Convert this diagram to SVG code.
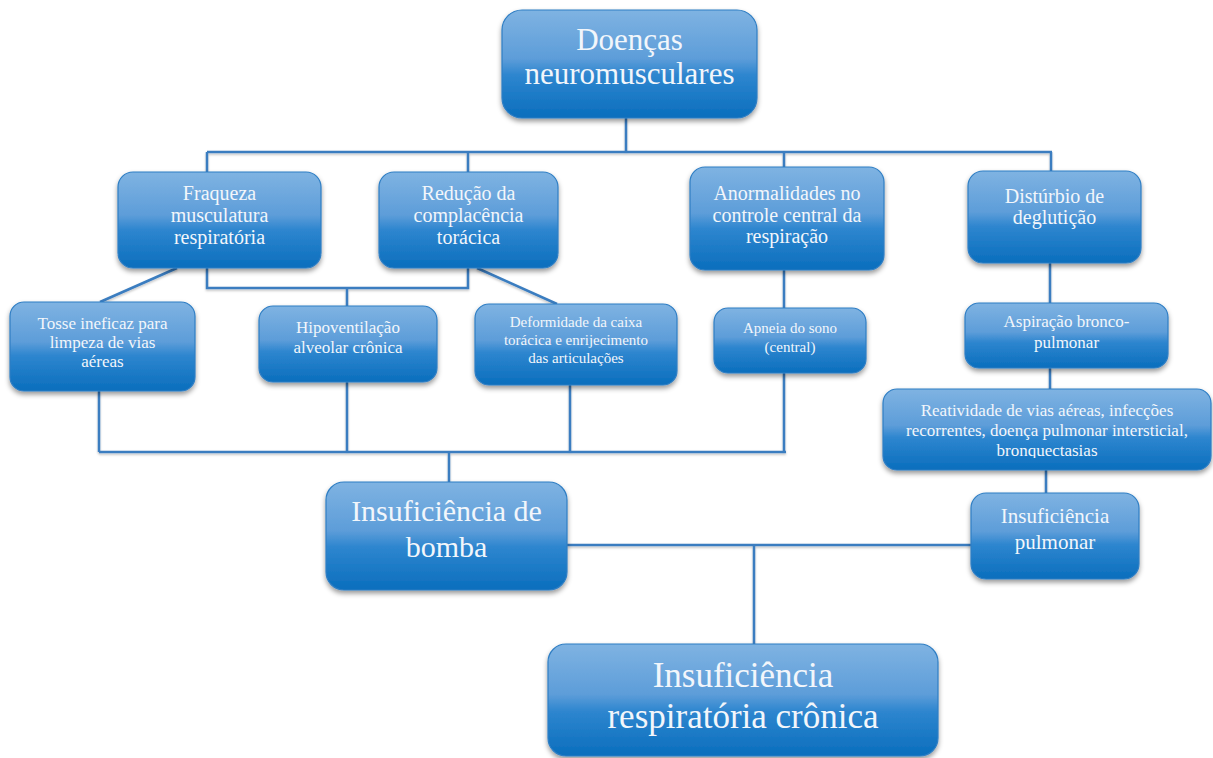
<svg xmlns="http://www.w3.org/2000/svg" width="1213" height="758" viewBox="0 0 1213 758">
<defs>
<linearGradient id="g" x1="0" y1="0" x2="0" y2="1">
<stop offset="0" stop-color="#7fb3e2"/>
<stop offset="0.45" stop-color="#5d9dd9"/>
<stop offset="0.6" stop-color="#2e86cf"/>
<stop offset="1" stop-color="#0a6ebd"/>
</linearGradient>
<filter id="sh" x="-10%" y="-10%" width="120%" height="130%">
<feDropShadow dx="0" dy="3" stdDeviation="2.5" flood-color="#000" flood-opacity="0.4"/>
</filter>
<filter id="lsh" x="-5%" y="-5%" width="110%" height="110%">
<feDropShadow dx="0" dy="1.5" stdDeviation="1" flood-color="#000" flood-opacity="0.25"/>
</filter>
<clipPath id="clipL"><rect x="883" y="389" width="330" height="69"/></clipPath>
</defs>
<style>
.box{fill:url(#g);stroke:#2f7ec4;stroke-width:1.2;filter:url(#sh)}
.t{font-family:"Liberation Serif","Times New Roman",serif;fill:#f2f6fb;text-anchor:middle}
.c{fill:none;stroke:#3a7dc0;stroke-width:2.5}
</style>
<rect width="1213" height="758" fill="#ffffff"/>
<g id="connectors" filter="url(#lsh)">
<path class="c" d="M626 118V152M207 152H1052M207 152V172M468 152V172M784 152V167M1051 152V171"/>
<path class="c" d="M207 268V288H468V268M347 288V306"/>
<path class="c" d="M177 268L100 302M477 268L557 304"/>
<path class="c" d="M784 270V308"/>
<path class="c" d="M99 391V452M347 382V452M570 385V452M784 373V452M99 452H786M449 452V482"/>
<path class="c" d="M1050 263V303M1050 368V389M1046 470V493"/>
<path class="c" d="M567 545H971M754 545V644"/>
</g>
<g id="n-doencas">
<rect class="box" x="502" y="10" width="255" height="108" rx="20"/>
<text class="t" font-size="31" x="629.5" y="50">Doenças</text>
<text class="t" font-size="31" x="629.5" y="84">neuromusculares</text>
</g>
<g id="n-fraqueza">
<rect class="box" x="118" y="172" width="203" height="96" rx="15"/>
<text class="t" font-size="20" x="219.5" y="200">Fraqueza</text>
<text class="t" font-size="20" x="219.5" y="222">musculatura</text>
<text class="t" font-size="20" x="219.5" y="244">respiratória</text>
</g>
<g id="n-reducao">
<rect class="box" x="379" y="172" width="179" height="96" rx="15"/>
<text class="t" font-size="20" x="468.5" y="200">Redução da</text>
<text class="t" font-size="20" x="468.5" y="222">complacência</text>
<text class="t" font-size="20" x="468.5" y="244">torácica</text>
</g>
<g id="n-anormalidades">
<rect class="box" x="690" y="167" width="194" height="103" rx="15"/>
<text class="t" font-size="20" x="787" y="200">Anormalidades no</text>
<text class="t" font-size="20" x="787" y="222">controle central da</text>
<text class="t" font-size="20" x="787" y="243">respiração</text>
</g>
<g id="n-disturbio">
<rect class="box" x="968" y="171" width="173" height="92" rx="15"/>
<text class="t" font-size="20" x="1054.5" y="203">Distúrbio de</text>
<text class="t" font-size="20" x="1054.5" y="224">deglutição</text>
</g>
<g id="n-tosse">
<rect class="box" x="10" y="302" width="185" height="89" rx="14"/>
<text class="t" font-size="17" x="102.5" y="329">Tosse ineficaz para</text>
<text class="t" font-size="17" x="102.5" y="348">limpeza de vias</text>
<text class="t" font-size="17" x="102.5" y="367">aéreas</text>
</g>
<g id="n-hipoventilacao">
<rect class="box" x="259" y="306" width="178" height="76" rx="14"/>
<text class="t" font-size="17" x="348" y="333">Hipoventilação</text>
<text class="t" font-size="17" x="348" y="353">alveolar crônica</text>
</g>
<g id="n-deformidade">
<rect class="box" x="475" y="304" width="202" height="81" rx="14"/>
<text class="t" font-size="15" x="576" y="327">Deformidade da caixa</text>
<text class="t" font-size="15" x="576" y="345">torácica e enrijecimento</text>
<text class="t" font-size="15" x="576" y="363">das articulações</text>
</g>
<g id="n-apneia">
<rect class="box" x="714" y="308" width="152" height="65" rx="14"/>
<text class="t" font-size="15" x="790" y="333">Apneia do sono</text>
<text class="t" font-size="15" x="790" y="352">(central)</text>
</g>
<g id="n-aspiracao">
<rect class="box" x="965" y="303" width="203" height="65" rx="14"/>
<text class="t" font-size="17" x="1066.5" y="327">Aspiração bronco-</text>
<text class="t" font-size="17" x="1066.5" y="348">pulmonar</text>
</g>
<g id="n-reatividade">
<rect class="box" x="883" y="389" width="328" height="81" rx="14"/>
<g clip-path="url(#clipL)">
<text class="t" font-size="17" x="1047" y="416">Reatividade de vias aéreas, infecções</text>
<text class="t" font-size="17" x="1047" y="436">recorrentes, doença pulmonar intersticial,</text>
<text class="t" font-size="17" x="1047" y="456">bronquectasias</text>
</g>
</g>
<g id="n-bomba">
<rect class="box" x="326" y="482" width="241" height="108" rx="18"/>
<text class="t" font-size="30" x="446.5" y="521">Insuficiência de</text>
<text class="t" font-size="30" x="446.5" y="557">bomba</text>
</g>
<g id="n-pulmonar">
<rect class="box" x="971" y="493" width="168" height="86" rx="15"/>
<text class="t" font-size="21" x="1055" y="523">Insuficiência</text>
<text class="t" font-size="21" x="1055" y="549">pulmonar</text>
</g>
<g id="n-cronica">
<rect class="box" x="548" y="644" width="390" height="112" rx="18"/>
<text class="t" font-size="35" x="743" y="687">Insuficiência</text>
<text class="t" font-size="35" x="743" y="728">respiratória crônica</text>
</g>
</svg>
